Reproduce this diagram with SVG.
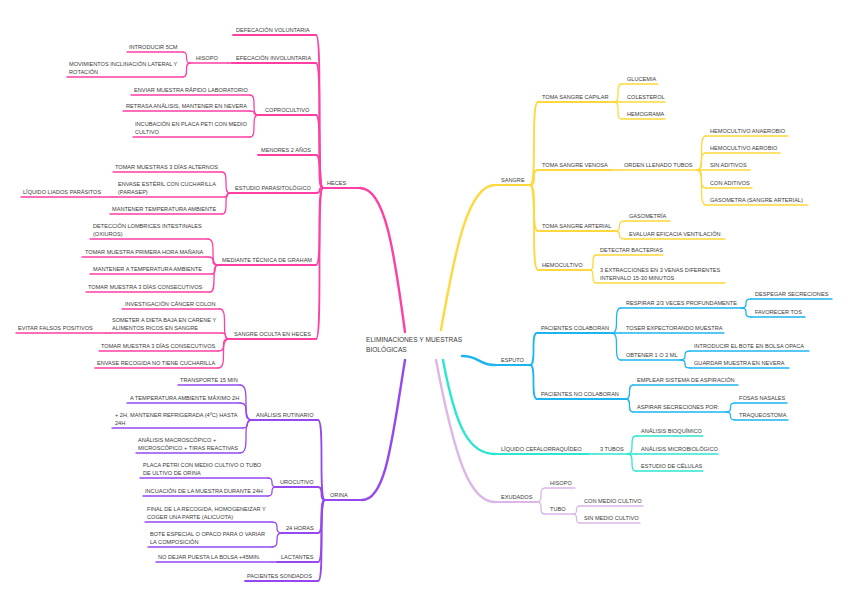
<svg xmlns="http://www.w3.org/2000/svg" width="848" height="603" viewBox="0 0 848 603">
<style>
text{font-family:"Liberation Sans",Arial,sans-serif;font-size:5.6px;fill:#3a3a3a}
.c{font-size:6.6px}
path{fill:none;stroke-linecap:round}
.pk{stroke:#ff3fa4;stroke-width:1.3}
.pu{stroke:#9548f0;stroke-width:1.3}
.ye{stroke:#ffd83d;stroke-width:1.3}
.bl{stroke:#1cb5f2;stroke-width:1.3}
.te{stroke:#2de6cf;stroke-width:1.3}
.li{stroke:#dcb6e8;stroke-width:1.3}
.m{stroke-width:2.4}
.l1{stroke-width:1.8}
</style>
<rect width="848" height="603" fill="#ffffff"/>
<g id="connectors">
<!-- main branches -->
<path class="pk m" d="M405,332 C394,250 385,188 360,188"/>
<path class="pu m" d="M405,360 C392,440 386,500 362,500"/>
<path class="ye m" d="M441,330 C455,250 468,185 495,185"/>
<path class="bl m" d="M462,356 C480,356 478,365 495,365"/>
<path class="te m" d="M443,360 C456,430 470,454 495,454"/>
<path class="li m" d="M436,360 C455,460 470,502 495,502"/>
<!-- HECES -->
<path class="pk l1" d="M316,35 C323,35 316,188 323,188"/>
<path class="pk l1" d="M316,63 C323,63 316,188 323,188"/>
<path class="pk l1" d="M316,115 C323,115 316,188 323,188"/>
<path class="pk l1" d="M316,155 C323,155 316,188 323,188"/>
<path class="pk l1" d="M316,193 C323,193 316,188 323,188"/>
<path class="pk l1" d="M316,265 C323,265 316,188 323,188"/>
<path class="pk l1" d="M316,339 C323,339 316,188 323,188"/>
<path class="pk" d="M228,63 L232,63"/>
<path class="pk" d="M183,52 C190,52 183,63 190,63"/>
<path class="pk" d="M183,77 C190,77 183,63 190,63"/>
<path class="pk" d="M250,95 C258,95 250,115 258,115"/>
<path class="pk" d="M250,111 C258,111 250,115 258,115"/>
<path class="pk" d="M250,137 C258,137 250,115 258,115"/>
<path class="pk" d="M222,172 C230,172 222,193 230,193"/>
<path class="pk" d="M225,197 C230,197 225,193 230,193"/>
<path class="pk" d="M222,214 C230,214 222,193 230,193"/>
<path class="pk" d="M112,197 L116,197"/>
<path class="pk" d="M208,239 C218,239 208,265 218,265"/>
<path class="pk" d="M208,257 C218,257 208,265 218,265"/>
<path class="pk" d="M212,274 C218,274 212,265 218,265"/>
<path class="pk" d="M210,292 C218,292 210,265 218,265"/>
<path class="pk" d="M220,309 C229,309 220,339 229,339"/>
<path class="pk" d="M222,333 C229,333 222,339 229,339"/>
<path class="pk" d="M218,351 C229,351 218,339 229,339"/>
<path class="pk" d="M218,368 C229,368 218,339 229,339"/>
<path class="pk" d="M106,333 L110,333"/>
<!-- ORINA -->
<path class="pu l1" d="M318,420 C325,420 318,500 325,500"/>
<path class="pu l1" d="M318,487 C325,487 318,500 325,500"/>
<path class="pu l1" d="M318,533 C325,533 318,500 325,500"/>
<path class="pu l1" d="M318,562 C325,562 318,500 325,500"/>
<path class="pu l1" d="M318,581 C325,581 318,500 325,500"/>
<path class="pu" d="M240,385 C252,385 240,420 252,420"/>
<path class="pu" d="M240,403 C252,403 240,420 252,420"/>
<path class="pu" d="M243,428 C252,428 243,420 252,420"/>
<path class="pu" d="M240,453 C252,453 240,420 252,420"/>
<path class="pu" d="M268,478 C276,478 268,487 276,487"/>
<path class="pu" d="M268,496 C276,496 268,487 276,487"/>
<path class="pu" d="M272,522 C282,522 272,533 282,533"/>
<path class="pu" d="M272,547 C282,547 272,533 282,533"/>
<path class="pu" d="M272,562 L277,562"/>
<!-- SANGRE -->
<path class="ye l1" d="M530,185 C538,185 530,102 538,102"/>
<path class="ye l1" d="M530,185 C538,185 530,170 538,170"/>
<path class="ye l1" d="M530,185 C538,185 530,231 538,231"/>
<path class="ye l1" d="M530,185 C538,185 530,270 538,270"/>
<path class="ye" d="M614,102 C622,102 614,84 622,84"/>
<path class="ye" d="M614,102 L622,102"/>
<path class="ye" d="M614,102 C622,102 614,119 622,119"/>
<path class="ye" d="M612,170 L618,170"/>
<path class="ye" d="M697,170 C706,170 697,136 706,136"/>
<path class="ye" d="M697,170 C706,170 697,153 706,153"/>
<path class="ye" d="M697,170 L706,170"/>
<path class="ye" d="M697,170 C706,170 697,188 706,188"/>
<path class="ye" d="M697,170 C706,170 697,205 706,205"/>
<path class="ye" d="M614,231 C625,231 614,221 625,221"/>
<path class="ye" d="M614,231 C625,231 614,239 625,239"/>
<path class="ye" d="M590,270 C596,270 590,255 596,255"/>
<path class="ye" d="M590,270 C596,270 590,283 596,283"/>
<!-- ESPUTO -->
<path class="bl l1" d="M530,365 C537,365 530,333 537,333"/>
<path class="bl l1" d="M530,365 C537,365 530,399 537,399"/>
<path class="bl" d="M612,333 C621,333 612,308 621,308"/>
<path class="bl" d="M612,333 L621,333"/>
<path class="bl" d="M612,333 C621,333 612,360 621,360"/>
<path class="bl" d="M741,308 C751,308 741,299 751,299"/>
<path class="bl" d="M741,308 C751,308 741,317 751,317"/>
<path class="bl" d="M680,360 C690,360 680,351 690,351"/>
<path class="bl" d="M680,360 C690,360 680,368 690,368"/>
<path class="bl" d="M626,399 C633,399 626,385 633,385"/>
<path class="bl" d="M626,399 C633,399 626,412 633,412"/>
<path class="bl" d="M726,412 C735,412 726,403 735,403"/>
<path class="bl" d="M726,412 C735,412 726,420 735,420"/>
<!-- LCR -->
<path class="te" d="M588,454 L594,454"/>
<path class="te" d="M628,454 C636,454 628,436 636,436"/>
<path class="te" d="M628,454 L636,454"/>
<path class="te" d="M628,454 C636,454 628,471 636,471"/>
<!-- EXUDADOS -->
<path class="li" d="M537,502 C545,502 537,488 545,488"/>
<path class="li" d="M537,502 C545,502 537,514 545,514"/>
<path class="li" d="M573,514 C580,514 573,506 580,506"/>
<path class="li" d="M573,514 C580,514 573,523 580,523"/>
</g>

<g id="center"><text class="c" x="366" y="342">ELIMINACIONES Y MUESTRAS</text><text class="c" x="366" y="352">BIOLÓGICAS</text></g>

<!-- HECES -->
<g id="heces"><text x="327" y="185">HECES</text><path class="pk l1" d="M323,188 H360"/></g>
<g id="defecacion"><text x="236" y="32">DEFECACIÓN VOLUNTARIA</text><path class="pk l1" d="M233,35 H316"/></g>
<g id="efecacion"><text x="236" y="60">EFECACIÓN INVOLUNTARIA</text><path class="pk l1" d="M232,63 H316"/></g>
<g id="hisopo1"><text x="196" y="60">HISOPO</text><path class="pk" d="M190,63 H228"/></g>
<g id="introducir"><text x="129" y="49">INTRODUCIR 5CM</text><path class="pk" d="M127,52 H183"/></g>
<g id="movimientos"><text x="69" y="65.5">MOVIMIENTOS INCLINACIÓN LATERAL Y</text><text x="69" y="74">ROTACIÓN</text><path class="pk" d="M67,77 H183"/></g>
<g id="coprocultivo"><text x="265" y="112">COPROCULTIVO</text><path class="pk l1" d="M258,115 H316"/></g>
<g id="enviar"><text x="134" y="92">ENVIAR MUESTRA RÁPIDO LABORATORIO</text><path class="pk" d="M131,95 H250"/></g>
<g id="retrasa"><text x="126" y="108">RETRASA ANÁLISIS, MANTENER EN NEVERA</text><path class="pk" d="M123,111 H250"/></g>
<g id="incubacion"><text x="135" y="125.5">INCUBACIÓN EN PLACA PETI CON MEDIO</text><text x="135" y="134">CULTIVO</text><path class="pk" d="M133,137 H250"/></g>
<g id="menores"><text x="261" y="152">MENORES 2 AÑOS</text><path class="pk l1" d="M258,155 H316"/></g>
<g id="estudio"><text x="235" y="190">ESTUDIO PARASITOLÓGICO</text><path class="pk l1" d="M230,193 H316"/></g>
<g id="tomar3alt"><text x="115" y="169">TOMAR MUESTRAS 3 DÍAS ALTERNOS</text><path class="pk" d="M113,172 H222"/></g>
<g id="envase"><text x="118" y="185.5">ENVASE ESTÉRIL CON CUCHARILLA</text><text x="118" y="194">(PARASEP)</text><path class="pk" d="M116,197 H225"/></g>
<g id="liquidoliados"><text x="23" y="194">LÍQUIDO LIADOS PARÁSITOS</text><path class="pk" d="M21,197 H112"/></g>
<g id="mantenertemp"><text x="112" y="211">MANTENER TEMPERATURA AMBIENTE</text><path class="pk" d="M110,214 H222"/></g>
<g id="graham"><text x="222" y="262">MEDIANTE TÉCNICA DE GRAHAM</text><path class="pk l1" d="M218,265 H316"/></g>
<g id="deteccion"><text x="93" y="227.5">DETECCIÓN LOMBRICES INTESTINALES</text><text x="93" y="236">(OXIUROS)</text><path class="pk" d="M90,239 H208"/></g>
<g id="tomarprimera"><text x="85" y="254">TOMAR MUESTRA PRIMERA HORA MAÑANA</text><path class="pk" d="M82,257 H208"/></g>
<g id="mantenera"><text x="93" y="271">MANTENER A TEMPERATURA AMBIENTE</text><path class="pk" d="M90,274 H212"/></g>
<g id="tomar3cons"><text x="88" y="289">TOMAR MUESTRA 3 DÍAS CONSECUTIVOS</text><path class="pk" d="M86,292 H210"/></g>
<g id="sangreoculta"><text x="234" y="336">SANGRE OCULTA EN HECES</text><path class="pk l1" d="M229,339 H316"/></g>
<g id="investigacion"><text x="125" y="306">INVESTIGACIÓN CÁNCER COLON</text><path class="pk" d="M122,309 H220"/></g>
<g id="someter"><text x="112" y="321.5">SOMETER A DIETA BAJA EN CARENE Y</text><text x="112" y="330">ALIMENTOS RICOS EN SANGRE</text><path class="pk" d="M110,333 H222"/></g>
<g id="evitar"><text x="18" y="330">EVITAR FALSOS POSITIVOS</text><path class="pk" d="M16,333 H106"/></g>
<g id="tomar3cons2"><text x="101" y="348">TOMAR MUESTRA 3 DÍAS CONSECUTIVOS</text><path class="pk" d="M99,351 H218"/></g>
<g id="envaserecogida"><text x="97" y="365">ENVASE RECOGIDA NO TIENE CUCHARILLA</text><path class="pk" d="M95,368 H218"/></g>

<!-- ORINA -->
<g id="orina"><text x="330" y="497">ORINA</text><path class="pu l1" d="M325,500 H362"/></g>
<g id="rutinario"><text x="256" y="417">ANÁLISIS RUTINARIO</text><path class="pu l1" d="M252,420 H318"/></g>
<g id="transporte"><text x="180" y="382">TRANSPORTE 15 MIN</text><path class="pu" d="M178,385 H240"/></g>
<g id="atemp"><text x="130" y="400">A TEMPERATURA AMBIENTE MÁXIMO 2H</text><path class="pu" d="M127,403 H240"/></g>
<g id="mas2h"><text x="115" y="416.5">+ 2H, MANTENER REFRIGERADA (4ºC) HASTA</text><text x="115" y="425">24H</text><path class="pu" d="M112,428 H243"/></g>
<g id="macro"><text x="138" y="441.5">ANÁLISIS MACROSCÓPICO +</text><text x="138" y="450">MICROSCÓPICO + TIRAS REACTIVAS</text><path class="pu" d="M136,453 H240"/></g>
<g id="urocutivo"><text x="280" y="484">UROCUTIVO</text><path class="pu l1" d="M276,487 H318"/></g>
<g id="placa"><text x="143" y="466.5">PLACA PETRI CON MEDIO CULTIVO O TUBO</text><text x="143" y="475">DE ULTIVO DE ORINA</text><path class="pu" d="M140,478 H268"/></g>
<g id="incuacion"><text x="145" y="493">INCUACIÓN DE LA MUESTRA DURANTE 24H</text><path class="pu" d="M143,496 H268"/></g>
<g id="h24"><text x="286" y="530">24 HORAS</text><path class="pu l1" d="M282,533 H318"/></g>
<g id="final"><text x="147" y="510.5">FINAL DE LA RECOGIDA, HOMOGENEIZAR Y</text><text x="147" y="519">COGER UNA PARTE (ALICUOTA)</text><path class="pu" d="M145,522 H272"/></g>
<g id="bote"><text x="150" y="535.5">BOTE ESPECIAL O OPACO PARA O VARIAR</text><text x="150" y="544">LA COMPOSICIÓN</text><path class="pu" d="M148,547 H272"/></g>
<g id="lactantes"><text x="281" y="559">LACTANTES</text><path class="pu l1" d="M277,562 H318"/></g>
<g id="nodejar"><text x="158" y="559">NO DEJAR PUESTA LA BOLSA +45MIN.</text><path class="pu" d="M156,562 H272"/></g>
<g id="sondados"><text x="247" y="578">PACIENTES SONDADOS</text><path class="pu l1" d="M245,581 H318"/></g>

<!-- SANGRE -->
<g id="sangre"><text x="501" y="182">SANGRE</text><path class="ye l1" d="M495,185 H530"/></g>
<g id="capilar"><text x="542" y="99">TOMA SANGRE CAPILAR</text><path class="ye l1" d="M538,102 H614"/></g>
<g id="glucemia"><text x="627" y="81">GLUCEMIA</text><path class="ye" d="M622,84 H658"/></g>
<g id="colesterol"><text x="627" y="99">COLESTEROL</text><path class="ye" d="M622,102 H665"/></g>
<g id="hemograma"><text x="627" y="116">HEMOGRAMA</text><path class="ye" d="M622,119 H665"/></g>
<g id="venosa"><text x="542" y="167">TOMA SANGRE VENOSA</text><path class="ye l1" d="M538,170 H612"/></g>
<g id="orden"><text x="624" y="167">ORDEN LLENADO TUBOS</text><path class="ye" d="M618,170 H697"/></g>
<g id="anaerobio"><text x="710" y="133">HEMOCULTIVO ANAEROBIO</text><path class="ye" d="M706,136 H788"/></g>
<g id="aerobio"><text x="710" y="150">HEMOCULTIVO AEROBIO</text><path class="ye" d="M706,153 H780"/></g>
<g id="sinaditivos"><text x="710" y="167">SIN ADITIVOS</text><path class="ye" d="M706,170 H750"/></g>
<g id="conaditivos"><text x="710" y="185">CON ADITIVOS</text><path class="ye" d="M706,188 H752"/></g>
<g id="gasometrasa"><text x="710" y="202">GASOMETRA (SANGRE ARTERIAL)</text><path class="ye" d="M706,205 H808"/></g>
<g id="arterial"><text x="542" y="228">TOMA SANGRE ARTERIAL</text><path class="ye l1" d="M538,231 H614"/></g>
<g id="gasometria"><text x="629" y="218">GASOMETRÍA</text><path class="ye" d="M625,221 H670"/></g>
<g id="evaluar"><text x="629" y="236">EVALUAR EFICACIA VENTILACIÓN</text><path class="ye" d="M625,239 H725"/></g>
<g id="hemocultivo"><text x="542" y="267">HEMOCULTIVO</text><path class="ye l1" d="M538,270 H590"/></g>
<g id="detectar"><text x="600" y="252">DETECTAR BACTERIAS</text><path class="ye" d="M596,255 H663"/></g>
<g id="extracciones"><text x="600" y="271.5">3 EXTRACCIONES EN 3 VENAS DIFERENTES</text><text x="600" y="280">INTERVALO 15-30 MINUTOS</text><path class="ye" d="M596,283 H725"/></g>

<!-- ESPUTO -->
<g id="esputo"><text x="501" y="362">ESPUTO</text><path class="bl l1" d="M495,365 H530"/></g>
<g id="colaboran"><text x="541" y="330">PACIENTES COLABORAN</text><path class="bl l1" d="M537,333 H612"/></g>
<g id="respirar"><text x="626" y="305">RESPIRAR 2/3 VECES PROFUNDAMENTE</text><path class="bl" d="M621,308 H741"/></g>
<g id="despegar"><text x="755" y="296">DESPEGAR SECRECIONES</text><path class="bl" d="M751,299 H832"/></g>
<g id="favorecer"><text x="755" y="314">FAVORECER TOS</text><path class="bl" d="M751,317 H805"/></g>
<g id="toser"><text x="626" y="330">TOSER EXPECTORANDO MUESTRA</text><path class="bl" d="M621,333 H724"/></g>
<g id="obtener"><text x="626" y="357">OBTENER 1 O 2 ML</text><path class="bl" d="M621,360 H680"/></g>
<g id="introducirbote"><text x="694" y="348">INTRODUCIR EL BOTE EN BOLSA OPACA</text><path class="bl" d="M690,351 H809"/></g>
<g id="guardar"><text x="694" y="365">GUARDAR MUESTRA EN NEVERA</text><path class="bl" d="M690,368 H789"/></g>
<g id="nocolaboran"><text x="541" y="396">PACIENTES NO COLABORAN</text><path class="bl l1" d="M537,399 H626"/></g>
<g id="emplear"><text x="637" y="382">EMPLEAR SISTEMA DE ASPIRACIÓN</text><path class="bl" d="M633,385 H738"/></g>
<g id="aspirar"><text x="637" y="409">ASPIRAR SECRECIONES POR:</text><path class="bl" d="M633,412 H726"/></g>
<g id="fosas"><text x="739" y="400">FOSAS NASALES</text><path class="bl" d="M735,403 H787"/></g>
<g id="traqueostoma"><text x="739" y="417">TRAQUEOSTOMA</text><path class="bl" d="M735,420 H788"/></g>

<!-- LCR -->
<g id="lcr"><text x="501" y="451">LÍQUIDO CEFALORRAQUÍDEO</text><path class="te l1" d="M495,454 H588"/></g>
<g id="tubos3"><text x="600" y="451">3 TUBOS</text><path class="te" d="M594,454 H628"/></g>
<g id="bioquimico"><text x="641" y="433">ANÁLISIS BIOQUÍMICO</text><path class="te" d="M636,436 H703"/></g>
<g id="microbiologico"><text x="641" y="451">ANÁLISIS MICROBIOLÓGICO</text><path class="te" d="M636,454 H718"/></g>
<g id="celulas"><text x="641" y="468">ESTUDIO DE CÉLULAS</text><path class="te" d="M636,471 H703"/></g>

<!-- EXUDADOS -->
<g id="exudados"><text x="501" y="499">EXUDADOS</text><path class="li l1" d="M495,502 H537"/></g>
<g id="hisopo2"><text x="550" y="485">HISOPO</text><path class="li" d="M545,488 H575"/></g>
<g id="tubo"><text x="550" y="511">TUBO</text><path class="li" d="M545,514 H573"/></g>
<g id="conmedio"><text x="584" y="503">CON MEDIO CULTIVO</text><path class="li" d="M580,506 H643"/></g>
<g id="sinmedio"><text x="584" y="520">SIN MEDIO CULTIVO</text><path class="li" d="M580,523 H640"/></g>
</svg>
